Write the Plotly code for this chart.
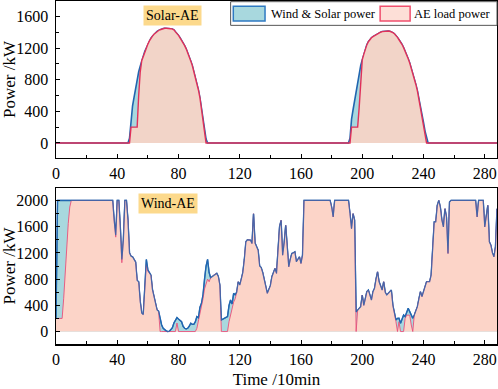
import plotly.graph_objects as go

# ---------------- data (10-min steps, 0..288) ----------------
solar_power = ([0] * 48 +
    [60, 300, 470, 580, 700, 800, 900, 970, 1040, 1100,
     1160, 1200, 1250, 1290, 1325, 1350, 1375, 1395, 1410, 1422,
     1432, 1440, 1446, 1450, 1450, 1450, 1448, 1445, 1440, 1430,
     1405, 1385, 1360, 1330, 1300, 1270, 1230, 1190, 1145, 1090,
     1035, 980, 910, 840, 760, 670, 570, 450, 320, 180, 50] +
    [0] * 93 +
    [60, 300, 420, 540, 660, 760, 870, 980, 1050, 1120,
     1190, 1240, 1280, 1310, 1330, 1345, 1358, 1365, 1380, 1392,
     1400, 1408, 1412, 1415, 1415, 1415, 1412, 1405, 1395, 1380,
     1360, 1335, 1305, 1280, 1245, 1205, 1165, 1120, 1065, 1010,
     950, 880, 810, 740, 660, 570, 470, 370, 260, 150, 60] +
    [0] * 46)

solar_load = ([0] * 49 +
    [200, 200, 200, 200, 200, 600, 900, 1040, 1100,
     1160, 1200, 1250, 1290, 1325, 1350, 1375, 1395, 1410, 1422,
     1432, 1440, 1446, 1450, 1450, 1450, 1448, 1445, 1440, 1430,
     1405, 1385, 1360, 1330, 1300, 1270, 1230, 1190, 1145, 1090,
     1035, 980, 910, 840, 760, 670, 570, 420, 260, 100] +
    [0] * 95 +
    [200, 200, 200, 200, 200, 450, 800, 1050, 1120,
     1190, 1240, 1280, 1310, 1330, 1345, 1358, 1365, 1380, 1392,
     1400, 1408, 1412, 1415, 1415, 1415, 1412, 1405, 1395, 1380,
     1360, 1335, 1305, 1280, 1245, 1205, 1165, 1120, 1065, 1010,
     950, 880, 810, 740, 660, 570, 440, 330, 220, 100] +
    [0] * 47)

wind_power = [
    200, 2000, 2000, 2000, 2000, 2000, 2000, 2000, 2000, 2000,
    2000, 2000, 2000, 2000, 2000, 2000, 2000, 2000, 2000, 2000,
    2000, 2000, 2000, 2000, 2000, 2000, 2000, 2000, 2000, 2000,
    2000, 2000, 2000, 2000, 2000, 2000, 2000, 2000, 1700, 1470,
    2000, 2000, 1600, 1100, 1400, 2000, 2000, 1700, 1200, 1150,
    1140, 1100, 1060, 780, 760, 460, 280, 260, 700, 1100,
    940, 890, 860, 640, 540, 460, 330, 310, 200, 100,
    50, 25, 10, 0, 5, 30, 60, 130, 180, 213,
    190, 170, 150, 80, 50, 40, 50, 80, 127, 110,
    110, 150, 228, 210, 370, 430, 560, 800, 1000, 1100,
    900, 820, 840, 862, 880, 887, 840, 710, 177, 190,
    200, 213, 228, 400, 481, 420, 583, 560, 600, 760,
    710, 800, 900, 1100, 1369, 1400, 1393, 1393, 1342, 1798,
    1350, 1292, 1241, 1000, 975, 900, 785, 680, 583, 640,
    700, 836, 900, 963, 887, 1292, 1600, 1697, 1165, 1350,
    1621, 1300, 988, 1100, 1190, 1200, 1216, 1064, 1100, 1140,
    1038, 1165, 2000, 2000, 2000, 2000, 2000, 2000, 2000, 2000,
    2000, 2000, 2000, 2000, 2000, 2000, 2000, 2000, 2000, 2000,
    1900, 1748, 2000, 2000, 2000, 2000, 2000, 2000, 2000, 2000,
    2000, 2000, 1800, 1570, 1798, 1700, 300, 330, 355, 380,
    557, 400, 500, 608, 633, 560, 481, 608, 658, 800,
    912, 760, 700, 633, 760, 600, 557, 583, 600, 633,
    400, 300, 177, 200, 203, 127, 200, 253, 228, 300,
    355, 304, 250, 203, 253, 304, 380, 500, 608, 532,
    600, 658, 760, 760, 760, 862, 1368, 1672, 1672, 1925,
    2000, 1900, 1700, 1596, 1874, 1748, 1190, 1975, 2000, 2000,
    2000, 2000, 2000, 2000, 2000, 2000, 2000, 2000, 2000, 2000,
    2000, 2000, 2000, 2000, 2000, 1748, 2000, 2000, 2000, 2000,
    1596, 1800, 1925, 1368, 1317, 1200, 1140, 1292, 1874,
]

wind_load = [
    200, 200, 200, 200, 200, 500, 900, 1300, 1650, 1900,
    2000, 2000, 2000, 2000, 2000, 2000, 2000, 2000, 2000, 2000,
    2000, 2000, 2000, 2000, 2000, 2000, 2000, 2000, 2000, 2000,
    2000, 2000, 2000, 2000, 2000, 2000, 2000, 2000, 1680, 1440,
    2000, 2000, 1580, 1050, 1400, 2000, 2000, 1700, 1200, 1150,
    1140, 1100, 1060, 780, 760, 460, 280, 260, 660, 1020,
    920, 890, 860, 640, 540, 460, 330, 310, 0, 0,
    0, 0, 0, 0, 0, 0, 0, 0, 0, 130,
    0, 0, 0, 0, 0, 0, 0, 0, 0, 0,
    0, 0, 50, 150, 280, 380, 500, 650, 750, 800,
    760, 820, 840, 862, 880, 887, 840, 710, 0, 0,
    0, 0, 0, 150, 250, 300, 450, 500, 600, 760,
    710, 800, 900, 1100, 1369, 1400, 1393, 1393, 1342, 1798,
    1350, 1292, 1241, 1000, 975, 900, 785, 680, 583, 640,
    700, 836, 900, 963, 887, 1292, 1600, 1697, 1165, 1350,
    1621, 1300, 988, 1100, 1190, 1200, 1216, 1064, 1100, 1140,
    1038, 1165, 2000, 2000, 2000, 2000, 2000, 2000, 2000, 2000,
    2000, 2000, 2000, 2000, 2000, 2000, 2000, 2000, 2000, 2000,
    1900, 1748, 2000, 2000, 2000, 2000, 2000, 2000, 2000, 2000,
    2000, 2000, 1800, 1570, 1798, 1700, 0, 330, 355, 380,
    557, 400, 500, 608, 633, 560, 481, 608, 658, 800,
    912, 760, 700, 633, 760, 600, 557, 583, 600, 633,
    400, 300, 150, 0, 150, 0, 0, 0, 200, 250,
    250, 250, 100, 0, 253, 304, 380, 500, 608, 532,
    600, 658, 760, 760, 760, 862, 1368, 1672, 1672, 1925,
    2000, 1900, 1700, 1596, 1874, 1748, 1190, 1975, 2000, 2000,
    2000, 2000, 2000, 2000, 2000, 2000, 2000, 2000, 2000, 2000,
    2000, 2000, 2000, 2000, 2000, 1748, 2000, 2000, 2000, 2000,
    1596, 1800, 1925, 1368, 1317, 1200, 1140, 1292, 1874,
]

time_steps = list(range(289))
assert len(solar_power) == len(solar_load) == len(wind_power) == len(wind_load) == 289

x_ticks = [0, 40, 80, 120, 160, 200, 240, 280]
y_ticks_top = [0, 400, 800, 1200, 1600]
y_ticks_bot = [0, 400, 800, 1200, 1600, 2000]
legend_labels = ["Wind & Solar power", "AE load power"]
panel_labels = ["Solar-AE", "Wind-AE"]

# ---------------- style ----------------
FONT = "Liberation Serif, Times New Roman, serif"
TEAL = "#A8D8DE"
BLUE = "#2166B0"
PINK_TOP = "#F2D4C8"
PINK_BOT = "#FCD4C8"
RED = "#E0305A"

fig = go.Figure()

# top panel: solar
fig.add_trace(go.Scatter(x=time_steps, y=solar_power, mode="lines", fill="tozeroy",
                         fillcolor=TEAL, line=dict(color=BLUE, width=1.6),
                         name=legend_labels[0], xaxis="x", yaxis="y"))
fig.add_trace(go.Scatter(x=time_steps, y=solar_load, mode="lines", fill="tozeroy",
                         fillcolor=PINK_TOP, line=dict(color=RED, width=1.4),
                         name=legend_labels[1], xaxis="x", yaxis="y"))

# bottom panel: wind
fig.add_trace(go.Scatter(x=time_steps, y=wind_power, mode="lines", fill="tozeroy",
                         fillcolor=TEAL, line=dict(color=BLUE, width=1.4),
                         name=legend_labels[0], xaxis="x2", yaxis="y2"))
fig.add_trace(go.Scatter(x=time_steps, y=wind_load, mode="lines", fill="tozeroy",
                         fillcolor=PINK_BOT, line=dict(color="#E8507A", width=0.9),
                         name=legend_labels[1], xaxis="x2", yaxis="y2"))
fig.add_trace(go.Scatter(x=time_steps, y=wind_power, mode="lines",
                         line=dict(color=BLUE, width=1.2), opacity=0.8,
                         name=legend_labels[0], xaxis="x2", yaxis="y2"))

minor_x = dict(dtick=20, tick0=0, ticks="inside", ticklen=3, tickcolor="black")
minor_y = dict(dtick=200, tick0=0, ticks="inside", ticklen=3, tickcolor="black")
axis_common = dict(showline=True, linecolor="black", linewidth=1.5, mirror=True,
                   ticks="inside", ticklen=4, tickwidth=1, tickcolor="black",
                   showgrid=False, zeroline=False, automargin=False,
                   tickfont=dict(family=FONT, size=16, color="black"))
title_font = dict(family=FONT, size=17, color="black")

# custom legend (drawn in paper coordinates, top-right of upper panel)
shapes = [
    dict(type="rect", xref="paper", yref="paper", x0=0.396, x1=1.0, y0=0.929, y1=0.998,
         fillcolor="white", line=dict(color="#555", width=1), layer="above"),
    dict(type="rect", xref="paper", yref="paper", x0=0.402, x1=0.474, y0=0.942, y1=0.985,
         fillcolor=TEAL, line=dict(color="#2F7AC2", width=1.5), layer="above"),
    dict(type="rect", xref="paper", yref="paper", x0=0.735, x1=0.803, y0=0.942, y1=0.985,
         fillcolor="#FDDFD7", line=dict(color="#F0506E", width=1.5), layer="above"),
]

annotations = [
    dict(text=legend_labels[0], x=0.483, y=0.9635, xref="paper", yref="paper",
         xanchor="left", yanchor="middle", showarrow=False,
         font=dict(family=FONT, size=12.5, color="black")),
    dict(text=legend_labels[1], x=0.808, y=0.9635, xref="paper", yref="paper",
         xanchor="left", yanchor="middle", showarrow=False,
         font=dict(family=FONT, size=12.5, color="black")),
    dict(text=panel_labels[0], x=76, y=1610, xref="x", yref="y", showarrow=False,
         bgcolor="#FCD98C", font=dict(family=FONT, size=14, color="black"), borderpad=2),
    dict(text=panel_labels[1], x=73, y=1950, xref="x2", yref="y2", showarrow=False,
         bgcolor="#FCD98C", font=dict(family=FONT, size=14, color="black"), borderpad=2),
]

fig.update_layout(
    width=498, height=389,
    margin=dict(l=56, r=1, t=1, b=45),
    paper_bgcolor="white", plot_bgcolor="white",
    font=dict(family=FONT, size=15, color="black"),
    showlegend=False,
    xaxis=dict(domain=[0, 1], range=[0, 288], anchor="y", tickvals=x_ticks,
               minor=minor_x, **axis_common),
    yaxis=dict(domain=[0.5423, 1], range=[-190, 1795], anchor="x", tickvals=y_ticks_top,
               minor=minor_y, ticklabelstandoff=3,
               title=dict(text="Power /kW", font=title_font, standoff=4),
               **axis_common),
    xaxis2=dict(domain=[0, 1], range=[0, 288], anchor="y2", tickvals=x_ticks,
                minor=minor_x,
                title=dict(text="Time /10min", font=title_font, standoff=6),
                **axis_common),
    yaxis2=dict(domain=[0, 0.4548], range=[-190, 2190], anchor="x2", tickvals=y_ticks_bot,
                minor=minor_y, ticklabelstandoff=3,
                title=dict(text="Power /kW", font=title_font, standoff=4),
                **axis_common),
    shapes=shapes,
    annotations=annotations,
)

fig.write_html("out.html",
               config={"displayModeBar": False, "staticPlot": True},
               post_script="document.body.style.margin='0';document.body.style.padding='0';")
